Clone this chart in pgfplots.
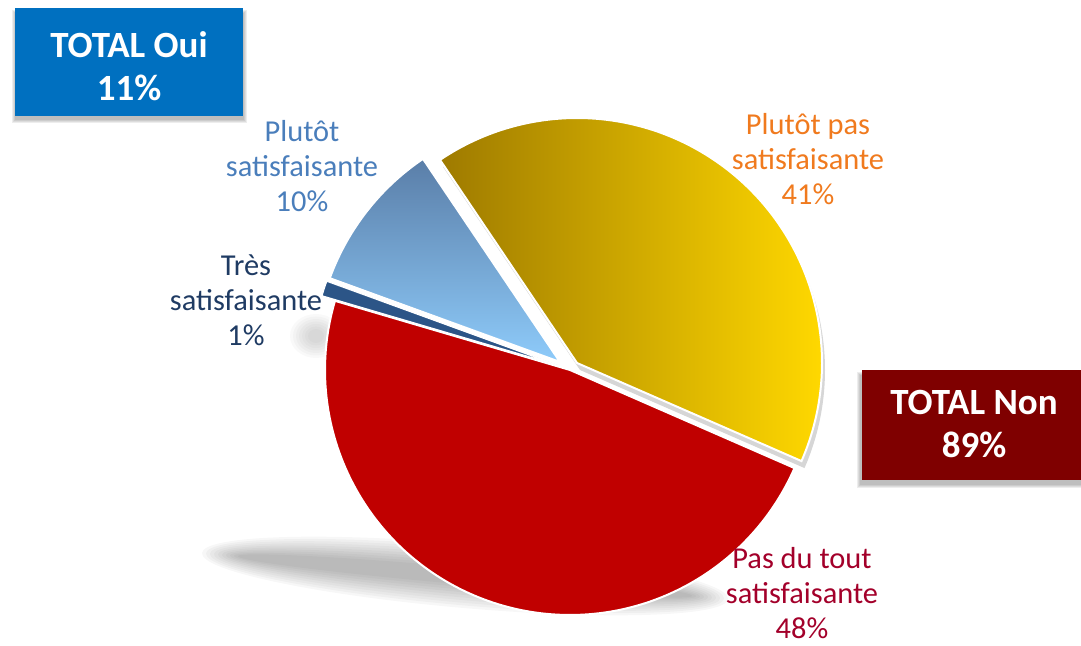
\documentclass[border=0pt]{standalone}
\usepackage{pgfplots}
\pgfplotsset{compat=1.18}
\usepackage{fontspec}
\setmainfont{Carlito}
\definecolor{pieRed}{HTML}{C00000}
\definecolor{goldL}{HTML}{9E7A00}
\definecolor{goldR}{HTML}{FFD800}
\definecolor{skyT}{HTML}{5A7EA8}
\definecolor{skyB}{HTML}{8ECBFA}
\definecolor{navy}{HTML}{2C5587}
\definecolor{lblOrange}{HTML}{F07A1E}
\definecolor{lblCrimson}{HTML}{A3002A}
\definecolor{lblSteel}{HTML}{4A7EBB}
\definecolor{lblNavy}{HTML}{1F3B63}
\definecolor{boxBlue}{HTML}{0070C0}
\definecolor{boxRed}{HTML}{7F0000}
\tikzset{
  lbl/.style={font=\fontsize{15.2}{17.5}\selectfont, align=center, inner sep=0pt},
  tot/.style={font=\bfseries\fontsize{18.5}{21.5}\selectfont, align=center, text=white, inner sep=0pt},
}

% shares (percent), drawn clockwise from the start angle
\pgfmathsetmacro\aA{163.6}
\pgfmathsetmacro\aB{\aA-3.6*1}   % Tres satisfaisante
\pgfmathsetmacro\aC{\aB-3.6*10}  % Plutot satisfaisante
\pgfmathsetmacro\aD{\aC-3.6*41}  % Plutot pas satisfaisante
\pgfmathsetmacro\aE{\aD-3.6*48}  % Pas du tout satisfaisante
\def\R{245}

\begin{document}
\begin{tikzpicture}
\begin{axis}[
    scale only axis, width=540.5pt, height=323pt,
    xmin=0, xmax=1081, ymin=0, ymax=646,
    hide axis, clip=false,
]
% floor shadow
\pgfplotsinvokeforeach{0,...,9}{
  \fill[black, opacity=0.03, rotate around={-5:(axis cs:465,70)}]
    (axis cs:465,70) ellipse [x radius={(264-4*#1)*0.5pt}, y radius={(32-2.6*#1)*0.5pt}];
}
\pgfplotsinvokeforeach{0,...,6}{
  \fill[black, opacity=0.025] (axis cs:316,310) ellipse [x radius={(26-3*#1)*0.5pt}, y radius={(22-2.5*#1)*0.5pt}];
}
% box shadows
\pgfplotsinvokeforeach{0,...,3}{
  \fill[black, opacity=0.07] (axis cs:{12+#1},{523+#1}) rectangle (axis cs:{247-#1},{636-#1});
  \fill[black, opacity=0.07] (axis cs:{857+#1},{158+#1}) rectangle (axis cs:1081,{274-#1});
}
% Pas du tout satisfaisante
\addplot[fill=pieRed, draw=white, line width=1pt, domain=\aE:\aD, samples=140]
  ({570+\R*cos(x)}, {276+\R*sin(x)}) -- (570,276) -- cycle;
% shadow under Plutot pas satisfaisante
\addplot[fill=black, fill opacity=0.16, draw=none, domain=\aD:\aC, samples=120]
  ({580+\R*cos(x)}, {276+\R*sin(x)}) -- (580,276) -- cycle;
% Plutot pas satisfaisante
\addplot[left color=goldL, right color=goldR, draw=white, line width=1pt, domain=\aD:\aC, samples=120]
  ({577+\R*cos(x)}, {283+\R*sin(x)}) -- (577,283) -- cycle;
% Plutot satisfaisante
\addplot[top color=skyT, bottom color=skyB, draw=white, line width=1pt, domain=\aC:\aB, samples=40]
  ({560+\R*cos(x)}, {284+\R*sin(x)}) -- (560,284) -- cycle;
% Tres satisfaisante
\addplot[fill=navy, draw=white, line width=0.6pt, domain=\aB:\aA, samples=10]
  ({557+\R*cos(x)}, {281+\R*sin(x)}) -- (557,281) -- cycle;

% labels
\node[lbl, text=lblOrange] at (axis cs:808,487) {Plutôt pas\\satisfaisante\\41\%};
\node[lbl, text=lblCrimson] at (axis cs:802,53) {Pas du tout\\satisfaisante\\48\%};
\node[lbl, text=lblSteel] at (axis cs:302,480) {Plutôt\\satisfaisante\\10\%};
\node[lbl, text=lblNavy] at (axis cs:246,346) {Très\\satisfaisante\\1\%};

% totals
\fill[boxBlue] (axis cs:15,530) rectangle (axis cs:243,638);
\node[tot] at (axis cs:129,580) {TOTAL Oui\\11\%};
\fill[boxRed] (axis cs:862,166) rectangle (axis cs:1081,276);
\node[tot] at (axis cs:974,222) {TOTAL Non\\89\%};
\end{axis}
\pgfresetboundingbox
\path[use as bounding box] (current axis.south west) rectangle (current axis.north east);
\end{tikzpicture}
\end{document}
